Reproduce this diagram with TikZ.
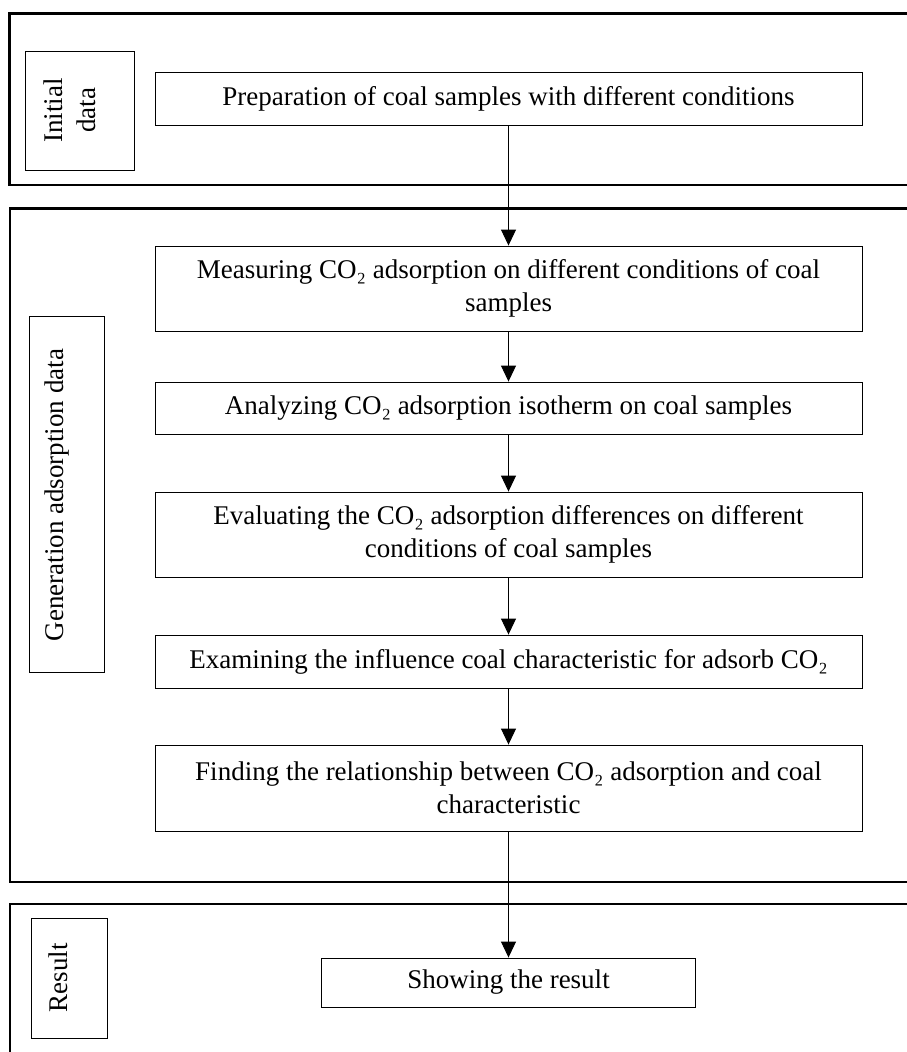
\documentclass[tikz,border=0pt]{standalone}
\usepackage{fontspec}
\setmainfont{Liberation Serif}
\usetikzlibrary{arrows.meta}
\begin{document}
\begin{tikzpicture}[x=1pt,y=-1pt,
  frame/.style={draw=black,line width=2.5pt},
  procbox/.style={draw=black,line width=0.9pt,minimum width=707pt,align=center,inner sep=0pt,font=\fontsize{27}{33}\selectfont},
  labbox/.style={draw=black,line width=0.9pt,inner sep=0pt},
  labtext/.style={rotate=90,align=center,inner sep=0pt,font=\fontsize{27}{33}\selectfont},
  arr/.style={line width=1pt,-{Triangle[width=15pt,length=16pt]}}]
\useasboundingbox (0,0) rectangle (907,1052);
\clip (0,0) rectangle (907,1052);
% outer frames
\draw[frame] (9.5,13.7) rectangle (940,185);
\draw[frame] (10,208.3) rectangle (940,882);
\draw[frame] (10,904) rectangle (940,1100);
% label boxes
\node[labbox,minimum width=109pt,minimum height=119pt] (l1) at (79.5,110.5) {};
\node[labtext] (l1t) at (70,110.5) {Initial\\data};
\node[labbox,minimum width=75pt,minimum height=356pt] (l2) at (66.5,494) {};
\node[labtext] (l2t) at (57,495) {Generation adsorption data};
\node[labbox,minimum width=76pt,minimum height=120pt] (l3) at (69,978) {};
\node[labtext] (l3t) at (58,977.5) {Result};
% process boxes
\node[procbox,minimum height=53pt] (p1) at (508.5,98.5) {Preparation of coal samples with different conditions};
\node[procbox,minimum height=85pt] (p2) at (508.5,288.5) {Measuring CO₂ adsorption on different conditions of coal\\samples};
\node[procbox,minimum height=52pt] (p3) at (508.5,408) {Analyzing CO₂ adsorption isotherm on coal samples};
\node[procbox,minimum height=85pt] (p4) at (508.5,534.5) {Evaluating the CO₂ adsorption differences on different\\conditions of coal samples};
\node[procbox,minimum height=53pt] (p5) at (508.5,661.5) {Examining the influence coal characteristic for adsorb CO₂};
\node[procbox,minimum height=86pt] (p6) at (508.5,788) {Finding the relationship between CO₂ adsorption and coal\\characteristic};
\node[procbox,minimum width=374pt,minimum height=49pt] (p7) at (508.5,982.5) {Showing the result};
% arrows
\draw[arr] (p1) -- (p2);
\draw[arr] (p2) -- (p3);
\draw[arr] (p3) -- (p4);
\draw[arr] (p4) -- (p5);
\draw[arr] (p5) -- (p6);
\draw[arr] (p6) -- (p7);
\end{tikzpicture}
\end{document}
